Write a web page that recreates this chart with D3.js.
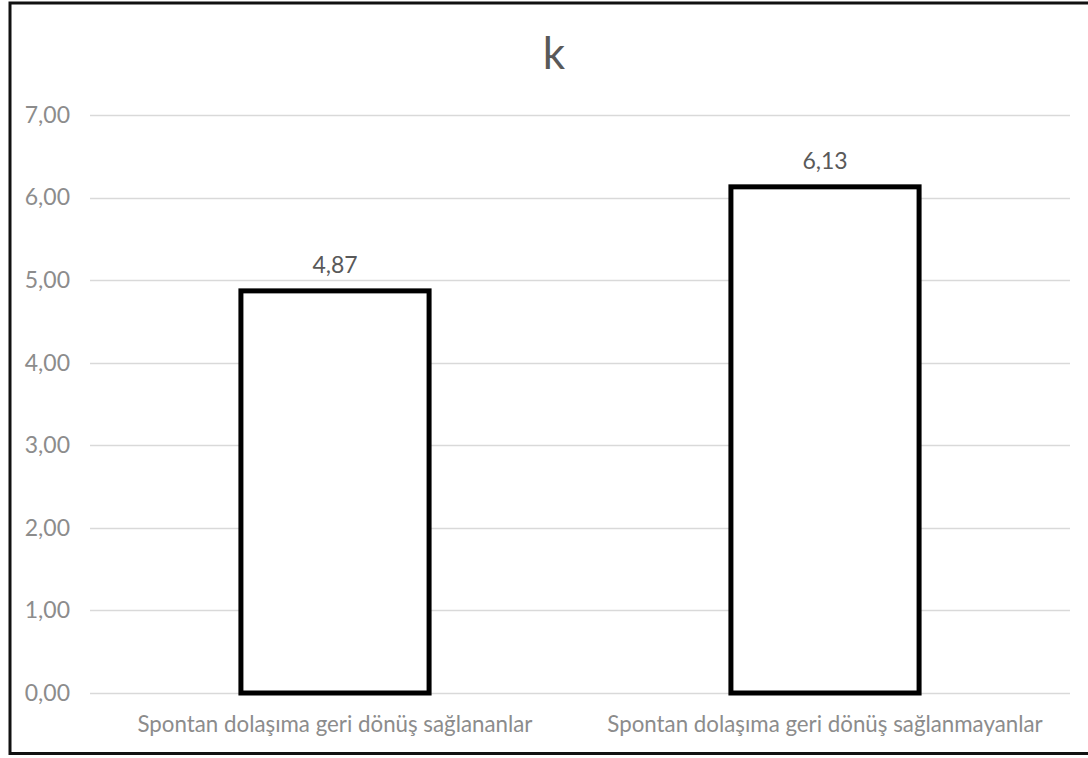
<!DOCTYPE html>
<html>
<head>
<meta charset="utf-8">
<script src="https://cdn.jsdelivr.net/npm/d3@7"></script>
<style>
  html, body { margin: 0; padding: 0; background: #fff; }
  svg { display: block; }
</style>
</head>
<body>
<svg id="chart" width="1088" height="758"></svg>
<script>
const title = "k";
const categories = ["Spontan dolaşıma geri dönüş sağlananlar", "Spontan dolaşıma geri dönüş sağlanmayanlar"];
const values = [4.87, 6.13];
const yTicks = [0, 1, 2, 3, 4, 5, 6, 7];

const FONT = "Lato, 'Open Sans', sans-serif";
const svg = d3.select("#chart");
const W = 1088, H = 758;
const plot = { left: 90, right: 1070, top: 115, bottom: 693 };

const loc = d3.formatLocale({ decimal: ",", thousands: ".", grouping: [3], currency: ["", ""] });
const fmt = loc.format(".2f");

svg.append("rect").attr("width", W).attr("height", H).attr("fill", "#fff");

const x = d3.scaleBand().domain(categories).range([plot.left, plot.right])
  .paddingInner(0.616).paddingOuter(0.308);
const y = d3.scaleLinear().domain([0, 7]).range([plot.bottom, plot.top]);

// gridlines
svg.append("g").selectAll("line").data(yTicks).join("line")
  .attr("x1", plot.left).attr("x2", plot.right)
  .attr("y1", d => Math.round(y(d)) + 0.5).attr("y2", d => Math.round(y(d)) + 0.5)
  .attr("stroke", "#d9d9d9").attr("stroke-width", 1.5);

// y axis labels
const yAxis = d3.axisLeft(y).tickValues(yTicks).tickFormat(fmt).tickSize(0).tickPadding(0);
const ya = svg.append("g").attr("transform", `translate(${plot.left - 20},0)`).call(yAxis);
ya.select(".domain").remove();
ya.selectAll("text").attr("font-family", FONT).attr("font-size", 23).attr("fill", "#8c8c8c");

// bars
svg.append("g").selectAll("rect").data(values).join("rect")
  .attr("x", (d, i) => x(categories[i]))
  .attr("y", d => y(d))
  .attr("width", x.bandwidth())
  .attr("height", d => y(0) - y(d))
  .attr("fill", "#fff").attr("stroke", "#000").attr("stroke-width", 5);

// data labels
svg.append("g").selectAll("text").data(values).join("text")
  .attr("x", (d, i) => x(categories[i]) + x.bandwidth() / 2)
  .attr("y", d => y(d) - 18)
  .attr("text-anchor", "middle")
  .attr("font-family", FONT).attr("font-size", 23).attr("fill", "#595959")
  .text(d => fmt(d));

// category labels
svg.append("g").selectAll("text").data(categories).join("text")
  .attr("x", d => x(d) + x.bandwidth() / 2)
  .attr("y", 732)
  .attr("text-anchor", "middle")
  .attr("font-family", FONT).attr("font-size", 22.3).attr("fill", "#8c8c8c")
  .text(d => d);

// title
svg.append("text").attr("x", 554).attr("y", 69).attr("text-anchor", "middle")
  .attr("font-family", FONT).attr("font-size", 44).attr("fill", "#595959").text(title);

// chart border (right edge is cropped off in the reference)
svg.append("rect").attr("x", 10).attr("y", 3).attr("width", 1100).attr("height", 750.5)
  .attr("fill", "none").attr("stroke", "#111").attr("stroke-width", 3);
</script>
</body>
</html>
